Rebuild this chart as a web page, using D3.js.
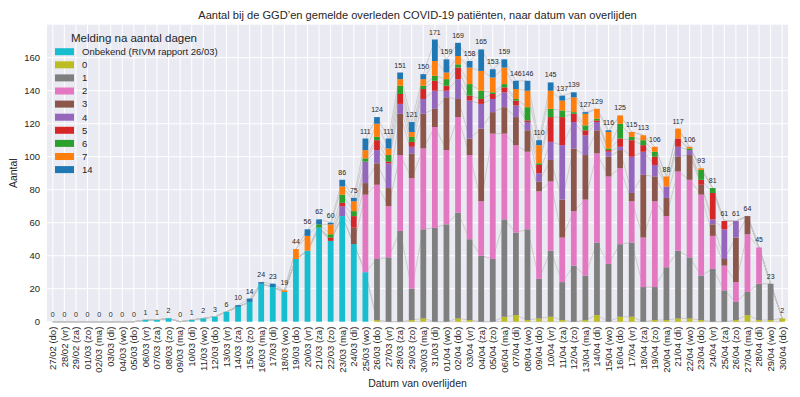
<html>
<head>
<meta charset="utf-8">
<script src="https://d3js.org/d3.v7.min.js"></script>
<style>
body { margin: 0; background: #fff; }
text { font-family: "Liberation Sans", Arial, sans-serif; fill: #262626; }
</style>
</head>
<body>
<svg width=800 height=397></svg>
<script>
var dates = ["27/02 (do)","28/02 (vr)","29/02 (za)","01/03 (zo)","02/03 (ma)","03/03 (di)","04/03 (wo)","05/03 (do)",
  "06/03 (vr)","07/03 (za)","08/03 (zo)","09/03 (ma)","10/03 (di)","11/03 (wo)","12/03 (do)","13/03 (vr)",
  "14/03 (za)","15/03 (zo)","16/03 (ma)","17/03 (di)","18/03 (wo)","19/03 (do)","20/03 (vr)","21/03 (za)",
  "22/03 (zo)","23/03 (ma)","24/03 (di)","25/03 (wo)","26/03 (do)","27/03 (vr)","28/03 (za)","29/03 (zo)",
  "30/03 (ma)","31/03 (di)","01/04 (wo)","02/04 (do)","03/04 (vr)","04/04 (za)","05/04 (zo)","06/04 (ma)",
  "07/04 (di)","08/04 (wo)","09/04 (do)","10/04 (vr)","11/04 (za)","12/04 (zo)","13/04 (ma)","14/04 (di)",
  "15/04 (wo)","16/04 (do)","17/04 (vr)","18/04 (za)","19/04 (zo)","20/04 (ma)","21/04 (di)","22/04 (wo)",
  "23/04 (do)","24/04 (vr)","25/04 (za)","26/04 (zo)","27/04 (ma)","28/04 (di)","29/04 (wo)","30/04 (do)"];

var onbekend = [0,0,0,0,0,0,0,0, 1,1,2,0,1,2,3,6, 9,12,23,21,18,38,43,57, 49,64,47,30,0,0,0,0,
  0,0,0,0,0,0,0,0, 0,0,0,0,0,0,0,0, 0,0,0,0,0,0,0,0, 0,0,0,0,0,0,0,0];
var dag0 = [0,0,0,0,0,0,0,0, 0,0,0,0,0,0,0,0, 0,0,0,0,0,0,0,0, 0,0,0,0,1,0,0,1,
  2,0,0,2,1,0,0,3, 4,1,2,3,1,0,1,4, 0,3,3,0,1,1,2,2, 1,0,0,1,4,1,1,2];
var dag1 = [0,0,0,0,0,0,0,0, 0,0,0,0,0,0,0,0, 0,0,0,0,0,0,0,0, 0,0,0,0,37,39,55,19,
  54,57,59,64,49,40,38,59, 50,55,24,40,23,34,27,44, 35,44,45,21,20,32,41,37, 27,32,19,11,14,22,22,0];
var dag2 = [0,0,0,0,0,0,0,0, 0,0,0,0,0,0,0,0, 0,0,0,0,0,0,0,0, 0,0,0,47,45,31,46,67,
  49,61,45,58,51,33,76,52, 53,47,53,42,27,33,46,54, 53,46,25,30,52,31,48,47, 49,20,15,12,35,22,0,0];
var dag3 = [0,0,0,0,0,0,0,0, 0,0,0,0,0,0,0,0, 0,0,0,0,0,0,0,0, 0,0,10,7,13,11,25,15,
  21,11,32,11,10,44,13,16, 17,13,6,13,23,38,27,14, 12,11,5,38,15,11,9,15, 6,7,4,27,11,0,0,0];
var dag4 = [0,0,0,0,0,0,0,0, 0,0,0,0,0,0,0,0, 0,0,0,0,0,0,0,0, 0,6,0,13,8,15,6,4,
  9,11,4,12,23,15,8,9, 7,5,5,11,33,16,12,5, 3,2,22,14,7,7,6,3, 0,3,18,10,0,0,0,0];
var dag5 = [0,0,0,0,0,0,0,0, 0,0,0,0,0,0,0,0, 0,0,0,0,0,0,0,0, 2,2,7,0,6,1,6,3,
  6,6,3,7,3,3,3,3, 3,1,5,15,17,5,3,1, 1,5,10,4,5,0,5,0, 3,16,5,0,0,0,0,0];
var dag6 = [0,0,0,0,0,0,0,0, 0,0,0,0,0,0,0,0, 0,0,0,0,0,0,0,2, 2,5,3,2,2,4,5,3,
  2,3,4,2,7,5,1,2, 1,8,1,5,4,1,3,1, 1,9,2,3,3,0,0,1, 6,3,0,0,0,0,0,0];
var dag7 = [0,0,0,0,0,0,0,0, 0,0,0,0,0,0,0,0, 0,0,0,0,1,6,9,0, 6,5,6,5,8,4,4,3,
  4,9,4,5,10,12,9,10, 6,10,11,11,6,9,7,6, 10,5,3,3,3,6,6,1, 1,0,0,0,0,0,0,0];
var dag14 = [0,0,0,0,0,0,0,0, 0,0,0,0,0,0,0,0, 1,2,1,2,0,0,4,3, 1,4,2,7,4,6,4,6,
  3,13,8,8,4,13,5,5, 5,6,3,5,3,3,1,0, 1,0,0,0,0,0,0,0, 0,0,0,0,0,0,0,0];

var keys = ["Onbekend (RIVM rapport 26/03)","0","1","2","3","4","5","6","7","14"];
var series = [onbekend, dag0, dag1, dag2, dag3, dag4, dag5, dag6, dag7, dag14];
var colors = ["#17becf","#bcbd22","#7f7f7f","#e377c2","#8c564b","#9467bd","#d62728","#2ca02c","#ff7f0e","#1f77b4"];
var yTicks = [0,20,40,60,80,100,120,140,160];

var table = dates.map(function(d, i) {
  var row = {date: d};
  keys.forEach(function(k, j) { row[k] = series[j][i]; });
  return row;
});
var stacked = d3.stack().keys(keys)(table);
var totals = table.map(function(r) { return d3.sum(keys, function(k) { return r[k]; }); });

var x0 = 47, x1 = 788, yTop = 24.7, yBot = 321.7;
var x = d3.scaleBand().domain(dates).range([x0, x1]).paddingInner(0.5).paddingOuter(0.25);
var xc = function(d) { return x(d) + x.bandwidth() / 2; };
var y = d3.scaleLinear().domain([0, 180]).range([yBot, yTop]);
var color = d3.scaleOrdinal().domain(keys).range(colors);

var svg = d3.select("svg");

svg.append("rect")
  .attr("x", x0).attr("y", yTop)
  .attr("width", x1 - x0).attr("height", yBot - yTop)
  .attr("fill", "#eaeaf2");

var grid = svg.append("g").attr("stroke", "#fff").attr("stroke-width", 1);
grid.selectAll("line.h").data(yTicks).enter().append("line")
  .attr("x1", x0).attr("x2", x1)
  .attr("y1", function(d) { return y(d); }).attr("y2", function(d) { return y(d); });
grid.selectAll("line.v").data(dates).enter().append("line")
  .attr("x1", xc).attr("x2", xc)
  .attr("y1", yTop).attr("y2", yBot);

// legend (no frame, drawn under the bars like matplotlib's)
var leg = svg.append("g");
leg.append("text")
  .attr("x", 134).attr("y", 42)
  .attr("text-anchor", "middle")
  .attr("font-size", "11.5px")
  .text("Melding na aantal dagen");
var items = leg.selectAll("g.item").data(keys).enter().append("g")
  .attr("transform", function(d, i) { return "translate(55," + (51.7 + i * 13.1) + ")"; });
items.append("rect")
  .attr("x", 0).attr("y", -3.5).attr("width", 19).attr("height", 7)
  .attr("fill", function(d) { return color(d); });
items.append("text")
  .attr("x", 27).attr("dy", "0.35em")
  .attr("font-size", "9.5px")
  .text(function(d) { return d; });

var line = d3.line().x(function(d) { return xc(d.data.date); }).y(function(d) { return y(d[1]); });
svg.append("g").selectAll("path").data(stacked).enter().append("path")
  .attr("d", line)
  .attr("fill", "none")
  .attr("stroke", "#c4c4c4")
  .attr("stroke-width", 0.8);

svg.append("g").selectAll("g").data(stacked).enter().append("g")
  .attr("fill", function(d) { return color(d.key); })
  .selectAll("rect").data(function(d) { return d; }).enter().append("rect")
  .attr("x", function(d) { return x(d.data.date); })
  .attr("width", x.bandwidth())
  .attr("y", function(d) { return y(d[1]); })
  .attr("height", function(d) { return y(d[0]) - y(d[1]); });

svg.append("g").selectAll("text").data(totals).enter().append("text")
  .attr("x", function(d, i) { return xc(dates[i]); })
  .attr("y", function(d) { return y(d) - 5; })
  .attr("text-anchor", "middle")
  .attr("font-size", "7px")
  .attr("fill", "#333")
  .text(function(d) { return d; });

var yAxis = svg.append("g")
  .attr("transform", "translate(" + x0 + ",0)")
  .call(d3.axisLeft(y).tickValues(yTicks).tickSize(0).tickPadding(7));
yAxis.select(".domain").remove();
yAxis.selectAll("text").attr("font-size", "9.5px").attr("fill", "#262626");

var xAxis = svg.append("g")
  .attr("transform", "translate(0," + yBot + ")")
  .call(d3.axisBottom(x).tickSize(0).tickPadding(0));
xAxis.select(".domain").remove();
xAxis.selectAll("text")
  .attr("font-size", "9.5px")
  .attr("fill", "#262626")
  .attr("text-anchor", "end")
  .attr("transform", "translate(0,5) rotate(-90)")
  .attr("x", 0).attr("y", 0).attr("dy", "0.35em");

svg.append("text")
  .attr("x", (x0 + x1) / 2).attr("y", 19)
  .attr("text-anchor", "middle")
  .attr("font-size", "11.1px")
  .text("Aantal bij de GGD\u2019en gemelde overleden COVID-19 patiënten, naar datum van overlijden");

svg.append("text")
  .attr("x", (x0 + x1) / 2).attr("y", 387)
  .attr("text-anchor", "middle")
  .attr("font-size", "10.5px")
  .text("Datum van overlijden");

svg.append("text")
  .attr("transform", "translate(17," + ((yTop + yBot) / 2) + ") rotate(-90)")
  .attr("text-anchor", "middle")
  .attr("font-size", "10.5px")
  .text("Aantal");
</script>
</body>
</html>
